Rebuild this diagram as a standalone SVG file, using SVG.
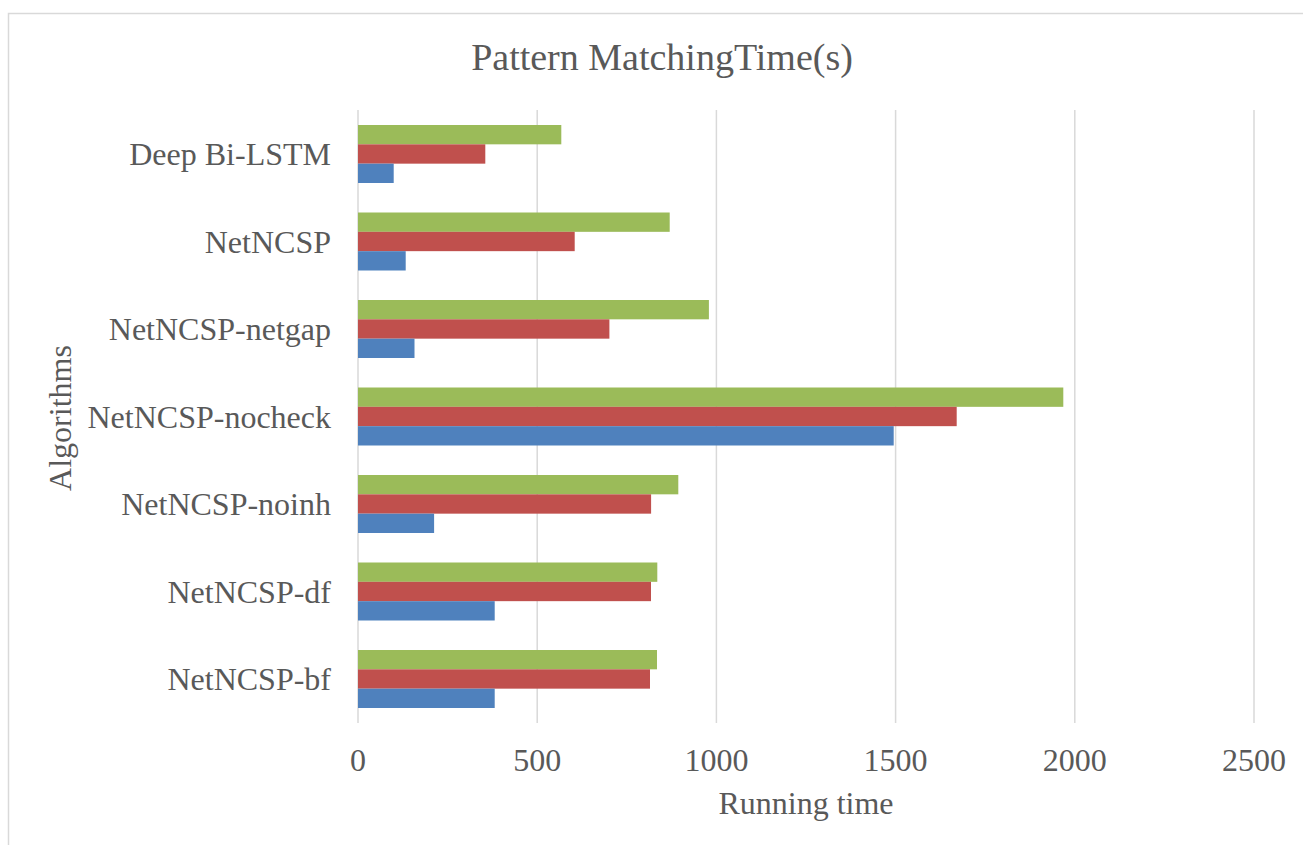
<svg xmlns="http://www.w3.org/2000/svg" width="1303" height="845" viewBox="0 0 1303 845">
<style>
.t{font-family:"Liberation Serif","Times New Roman",serif;fill:#595959}
.cat{font-size:32px;text-anchor:end}
.tick{font-size:32px;text-anchor:middle}
.grid{stroke:#d9d9d9;stroke-width:1.5}
.g{fill:#9bbb59}
.r{fill:#c0504d}
.b{fill:#4f81bd}
</style>
<rect x="0" y="0" width="1303" height="845" fill="#ffffff"/>
<rect x="8.5" y="13.5" width="1400" height="900" fill="#ffffff" stroke="#d9d9d9" stroke-width="1.5"/>
<g id="gridlines">
<line class="grid" x1="358" y1="110" x2="358" y2="723"/>
<line class="grid" x1="537.2" y1="110" x2="537.2" y2="723"/>
<line class="grid" x1="716.4" y1="110" x2="716.4" y2="723"/>
<line class="grid" x1="895.6" y1="110" x2="895.6" y2="723"/>
<line class="grid" x1="1074.8" y1="110" x2="1074.8" y2="723"/>
<line class="grid" x1="1254" y1="110" x2="1254" y2="723"/>
</g>
<text id="title" class="t" x="662" y="70" font-size="38" text-anchor="middle">Pattern MatchingTime(s)</text>
<g id="deep-bilstm">
<rect class="g" x="358" y="125" width="203.3" height="19.33"/>
<rect class="r" x="358" y="144.33" width="127.3" height="19.33"/>
<rect class="b" x="358" y="163.67" width="35.7" height="19.33"/>
<text class="t cat" x="331" y="165">Deep Bi-LSTM</text>
</g>
<g id="netncsp">
<rect class="g" x="358" y="212.5" width="311.7" height="19.33"/>
<rect class="r" x="358" y="231.83" width="216.7" height="19.33"/>
<rect class="b" x="358" y="251.17" width="47.7" height="19.33"/>
<text class="t cat" x="331" y="252.5">NetNCSP</text>
</g>
<g id="netncsp-netgap">
<rect class="g" x="358" y="300" width="350.9" height="19.33"/>
<rect class="r" x="358" y="319.33" width="251.4" height="19.33"/>
<rect class="b" x="358" y="338.67" width="56.5" height="19.33"/>
<text class="t cat" x="331" y="340">NetNCSP-netgap</text>
</g>
<g id="netncsp-nocheck">
<rect class="g" x="358" y="387.5" width="705.3" height="19.33"/>
<rect class="r" x="358" y="406.83" width="598.7" height="19.33"/>
<rect class="b" x="358" y="426.17" width="535.7" height="19.33"/>
<text class="t cat" x="331" y="427.5">NetNCSP-nocheck</text>
</g>
<g id="netncsp-noinh">
<rect class="g" x="358" y="475" width="320.3" height="19.33"/>
<rect class="r" x="358" y="494.33" width="293.1" height="19.33"/>
<rect class="b" x="358" y="513.67" width="76.1" height="19.33"/>
<text class="t cat" x="331" y="515">NetNCSP-noinh</text>
</g>
<g id="netncsp-df">
<rect class="g" x="358" y="562.5" width="299.3" height="19.33"/>
<rect class="r" x="358" y="581.83" width="293" height="19.33"/>
<rect class="b" x="358" y="601.17" width="136.7" height="19.33"/>
<text class="t cat" x="331" y="602.5">NetNCSP-df</text>
</g>
<g id="netncsp-bf">
<rect class="g" x="358" y="650" width="299" height="19.33"/>
<rect class="r" x="358" y="669.33" width="292" height="19.33"/>
<rect class="b" x="358" y="688.67" width="136.7" height="19.33"/>
<text class="t cat" x="331" y="690">NetNCSP-bf</text>
</g>
<g id="x-axis">
<text class="t tick" x="358" y="771">0</text>
<text class="t tick" x="537.2" y="771">500</text>
<text class="t tick" x="716.4" y="771">1000</text>
<text class="t tick" x="895.6" y="771">1500</text>
<text class="t tick" x="1074.8" y="771">2000</text>
<text class="t tick" x="1254" y="771">2500</text>
<text class="t tick" x="806" y="814">Running time</text>
</g>
<g id="y-axis">
<text class="t tick" transform="translate(71 418) rotate(-90)">Algorithms</text>
</g>
</svg>
